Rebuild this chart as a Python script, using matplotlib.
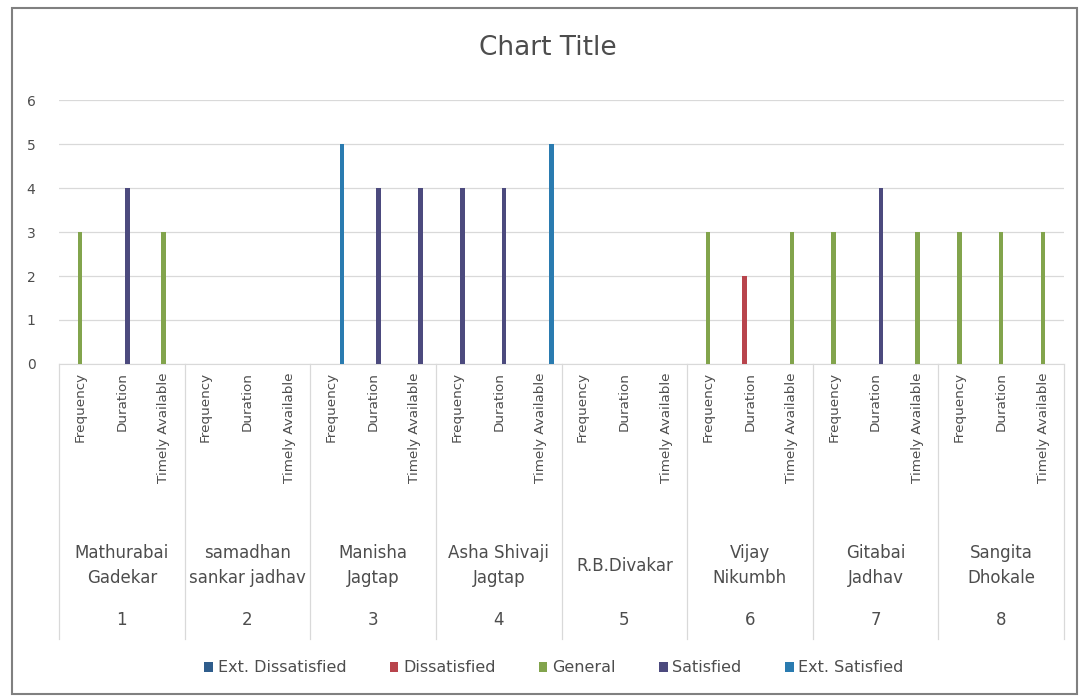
import matplotlib
matplotlib.use("Agg")
import matplotlib.pyplot as plt
from matplotlib.patches import Rectangle
import numpy as np

plt.rcParams['font.family'] = ['DejaVu Sans']

# respondentes e aspectos
names = ['Mathurabai\nGadekar', 'samadhan\nsankar jadhav', 'Manisha\nJagtap', 'Asha Shivaji\nJagtap',
         'R.B.Divakar', 'Vijay\nNikumbh', 'Gitabai\nJadhav', 'Sangita\nDhokale']
ids = ['1', '2', '3', '4', '5', '6', '7', '8']
aspects = ['Frequency', 'Duration', 'Timely Available']

series = ['Ext. Dissatisfied', 'Dissatisfied', 'General', 'Satisfied', 'Ext. Satisfied']
colors = ['#2F5D8C', '#B8444C', '#82A44C', '#4C4A7E', '#2A7BB0']

# valores por serie (8 pessoas x 3 aspectos)
ext_dissatisfied = [0, 0, 0,  0, 0, 0,  0, 0, 0,  0, 0, 0,  0, 0, 0,  0, 0, 0,  0, 0, 0,  0, 0, 0]
dissatisfied     = [0, 0, 0,  0, 0, 0,  0, 0, 0,  0, 0, 0,  0, 0, 0,  0, 2, 0,  0, 0, 0,  0, 0, 0]
general          = [3, 0, 3,  0, 0, 0,  0, 0, 0,  0, 0, 0,  0, 0, 0,  3, 0, 3,  3, 0, 3,  3, 3, 3]
satisfied        = [0, 4, 0,  0, 0, 0,  0, 4, 4,  4, 4, 0,  0, 0, 0,  0, 0, 0,  0, 4, 0,  0, 0, 0]
ext_satisfied    = [0, 0, 0,  0, 0, 0,  5, 0, 0,  0, 0, 5,  0, 0, 0,  0, 0, 0,  0, 0, 0,  0, 0, 0]

values = [ext_dissatisfied, dissatisfied, general, satisfied, ext_satisfied]

txt = '#4d4d4d'
W, H = 1080, 698
fig = plt.figure(figsize=(W / 100, H / 100), dpi=100)

# moldura do grafico
fig.patches.append(Rectangle((12 / W, 1 - 694 / H), 1065 / W, 686 / H, transform=fig.transFigure,
                             fill=False, edgecolor='#808080', linewidth=1.5))

ax = fig.add_axes([59 / W, 1 - 364 / H, 1005 / W, 264 / H])

n = len(ids) * len(aspects)
x = np.arange(n)
step = 0.13
for i, (vals, col, lab) in enumerate(zip(values, colors, series)):
    ax.bar(x + (i - 2) * step, vals, width=0.11, color=col, label=lab, zorder=3)

ax.set_xlim(-0.5, n - 0.5)
ax.set_ylim(0, 6)
ax.set_yticks(range(0, 7))
ax.tick_params(axis='y', length=0, labelsize=10, labelcolor=txt, pad=17)
ax.grid(axis='y', color='#d9d9d9', linewidth=0.9, zorder=0)
for s in ['top', 'right', 'left']:
    ax.spines[s].set_visible(False)
ax.spines['bottom'].set_color('#d9d9d9')

ax.set_xticks(x)
ax.set_xticklabels(aspects * len(ids), rotation=90, fontsize=9.7, color=txt)
ax.tick_params(axis='x', length=0, pad=6)

tr = ax.get_xaxis_transform()
for g in range(len(ids) + 1):
    ax.plot([g * 3 - 0.5, g * 3 - 0.5], [0, -1.04], transform=tr, color='#d9d9d9',
            linewidth=0.9, clip_on=False)
for g in range(len(ids)):
    cx = g * 3 + 1
    ax.text(cx, -(566 - 364) / 264, names[g], transform=tr, ha='center', va='center', fontsize=12,
            color=txt, linespacing=1.5)
    ax.text(cx, -(620 - 364) / 264, ids[g], transform=tr, ha='center', va='center', fontsize=12,
            color=txt)

fig.text(548 / W, 1 - 48 / H, 'Chart Title', ha='center', va='center', fontsize=19, color=txt)

fig.legend(loc='center', bbox_to_anchor=(554 / W, 1 - 668 / H), ncol=5, frameon=False,
           fontsize=11.5, labelcolor=txt, handlelength=0.55, handleheight=0.55,
           handletextpad=0.3, columnspacing=2.7)

plt.savefig('out.png', dpi=100)
